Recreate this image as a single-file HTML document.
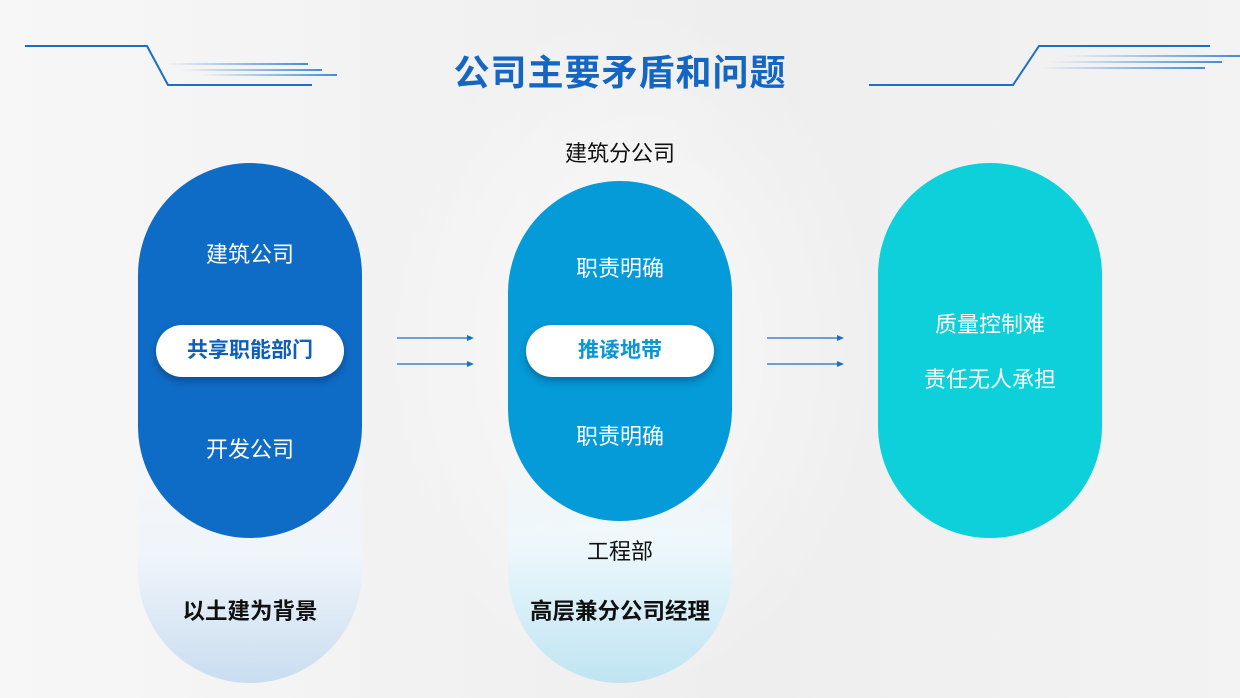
<!DOCTYPE html>
<html><head><meta charset="utf-8"><style>
*{margin:0;padding:0;box-sizing:border-box}
body{width:1240px;height:698px;overflow:hidden;position:relative;font-family:"Liberation Sans","Noto Sans CJK SC",sans-serif;background:linear-gradient(90deg,#f7f7f7 0%,#f1f1f1 40%,#eeeeee 60%,#f3f3f3 100%)}
.abs{position:absolute}
.pill{position:absolute;width:224px;border-radius:112px}
.t{position:absolute;width:224px;text-align:center;color:#fff;font-size:22px}
.w{position:absolute;background:#fff;border-radius:26px;height:52px;width:188px;text-align:center;line-height:52px;font-size:21px;font-weight:bold;box-shadow:0 4px 8px rgba(0,0,40,.3)}
</style></head><body>
<div class="abs" style="left:380px;top:0;width:500px;height:698px;background:radial-gradient(ellipse at 50% 50%,rgba(255,255,255,.7),rgba(255,255,255,0) 70%)"></div>
<svg class="abs" style="left:0;top:0" width="1240" height="698">
<defs>
<linearGradient id="fl" x1="0" x2="1"><stop offset="0" stop-color="#1a73cc" stop-opacity="0"/><stop offset="1" stop-color="#1a73cc" stop-opacity=".8"/></linearGradient>
<linearGradient id="fr" x1="1" x2="0"><stop offset="0" stop-color="#1a73cc" stop-opacity=".8"/><stop offset="1" stop-color="#1a73cc" stop-opacity="0"/></linearGradient>
</defs>
<polyline points="25,46 147,46 168,85 312,85" fill="none" stroke="#1a6fc8" stroke-width="2"/>
<rect x="165" y="63" width="143" height="2" fill="url(#fl)"/>
<rect x="180" y="69" width="142" height="2" fill="url(#fl)"/>
<rect x="200" y="74" width="137" height="2" fill="url(#fl)"/>
<polyline points="869,85 1013,85 1039,46 1210,46" fill="none" stroke="#1a6fc8" stroke-width="2"/>
<rect x="1065" y="55" width="175" height="2" fill="url(#fr)"/>
<rect x="1050" y="61" width="172" height="2" fill="url(#fr)"/>
<rect x="1040" y="67" width="165" height="2" fill="url(#fr)"/>
<g stroke="#1a6fc8" stroke-width="1.2" fill="#1a6fc8">
<line x1="397" y1="338" x2="468" y2="338"/><polygon points="474,338 467,335 467,341" stroke="none"/>
<line x1="397" y1="364" x2="468" y2="364"/><polygon points="474,364 467,361 467,367" stroke="none"/>
<line x1="767" y1="338" x2="838" y2="338"/><polygon points="844,338 837,335 837,341" stroke="none"/>
<line x1="767" y1="364" x2="838" y2="364"/><polygon points="844,364 837,361 837,367" stroke="none"/>
</g>
</svg>
<div class="abs" style="left:0;top:50px;width:1240px;text-align:center;font-size:36px;line-height:46px;font-weight:bold;color:#1566c2;letter-spacing:1px">公司主要矛盾和问题</div>

<div class="pill" style="left:138px;top:163px;height:520px;background:linear-gradient(180deg,rgba(255,255,255,0) 55%,#f0f5fb 75%,#c9ddf0 100%)"></div>
<div class="pill" style="left:138px;top:163px;height:375px;background:#0f6cc6"></div>
<div class="t" style="left:138px;top:237px">建筑公司</div>
<div class="w" style="left:156px;top:325px;color:#0f5fb8">共享职能部门</div>
<div class="t" style="left:138px;top:432px">开发公司</div>
<div class="t" style="left:138px;top:594px;color:#111;font-weight:bold;font-size:22.5px">以土建为背景</div>

<div class="abs" style="left:508px;top:136px;width:224px;text-align:center;font-size:22px;color:#111">建筑分公司</div>
<div class="pill" style="left:508px;top:181px;height:502px;background:linear-gradient(180deg,rgba(255,255,255,0) 55%,#eef8fc 72%,#bfe4f2 100%)"></div>
<div class="pill" style="left:508px;top:181px;height:340px;background:#049bd8"></div>
<div class="t" style="left:508px;top:251px">职责明确</div>
<div class="w" style="left:526px;top:325px;color:#0a96d2">推诿地带</div>
<div class="t" style="left:508px;top:419px">职责明确</div>
<div class="t" style="left:508px;top:534px;color:#111">工程部</div>
<div class="t" style="left:508px;top:594px;color:#111;font-weight:bold;font-size:22.5px">高层兼分公司经理</div>

<div class="pill" style="left:878px;top:163px;height:375px;background:#0dd0da"></div>
<div class="t" style="left:878px;top:307px">质量控制难</div>
<div class="t" style="left:878px;top:362px">责任无人承担</div>
</body></html>
